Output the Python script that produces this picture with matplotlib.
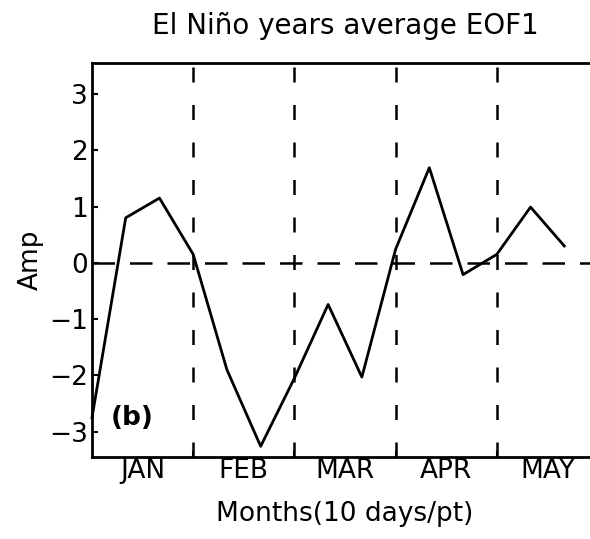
import matplotlib.pyplot as plt

# 10-day amplitude of EOF1, El Nino years average
points = list(range(15))
amp = [-2.75, 0.8, 1.15, 0.15, -1.9, -3.26, -2.05, -0.74, -2.03,
       0.24, 1.69, -0.21, 0.15, 0.99, 0.3]
months = ["JAN", "FEB", "MAR", "APR", "MAY"]
month_centers = [1.5, 4.5, 7.5, 10.5, 13.5]
month_bounds = [3, 6, 9, 12]
yticks = [-3, -2, -1, 0, 1, 2, 3]

plt.rcParams['font.family'] = ['DejaVu Sans']

fig = plt.figure(figsize=(5.9, 5.39), dpi=100)
ax = fig.add_axes([92 / 590, 1 - 457 / 539, (598 - 92) / 590, (457 - 63) / 539])

ax.plot(points, amp, color='black', lw=2, clip_on=False)
ax.axhline(0, color='black', lw=1.8, dashes=(9, 6))
for b in month_bounds:
    ax.axvline(b, color='black', lw=1.8, dashes=(6, 9))

ax.set_xlim(0, 15)
ax.set_ylim(-3.45, 3.55)
ax.set_yticks(yticks)
ax.set_xticks(month_bounds)
ax.set_xticklabels([])
ax.set_xticks(month_centers, minor=True)
ax.set_xticklabels(months, minor=True)
ax.tick_params(axis='y', direction='in', length=4, width=1.5, labelsize=19, pad=3)
ax.tick_params(axis='x', which='major', direction='in', length=4, width=1.5)
ax.tick_params(axis='x', which='minor', length=0, labelsize=19, pad=1)
for s in ax.spines.values():
    s.set_linewidth(2)

ax.text(0.55, -2.75, "(b)", fontsize=19, fontweight='bold', va='center')
ax.set_title("El Ni\u00f1o years average EOF1", fontsize=20, pad=21)
ax.set_ylabel("Amp", fontsize=19, labelpad=4)
ax.set_xlabel("Months(10 days/pt)", fontsize=19, labelpad=12)

fig.savefig("out.png")
